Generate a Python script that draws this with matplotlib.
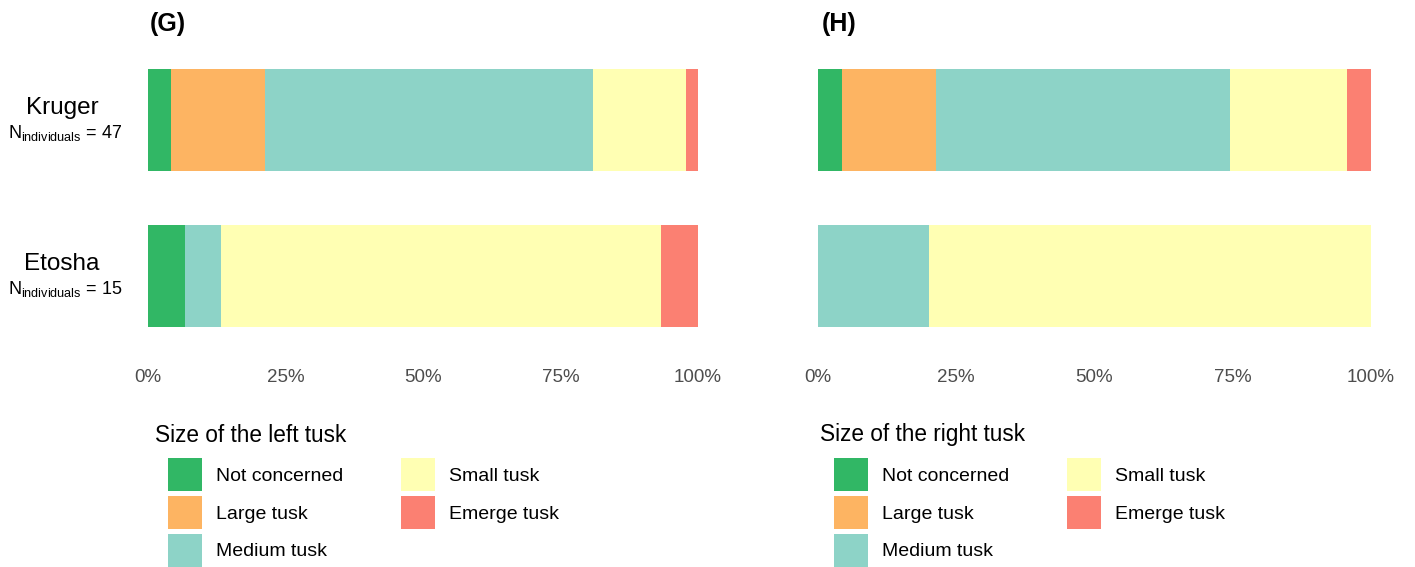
import numpy as np
import matplotlib
matplotlib.use("Agg")
import matplotlib.pyplot as plt
from matplotlib.patches import Patch

plt.rcParams['font.family'] = ['Liberation Sans', 'DejaVu Sans']
plt.rcParams['mathtext.fontset'] = 'custom'
plt.rcParams['mathtext.rm'] = 'Liberation Sans'
plt.rcParams['mathtext.it'] = 'Liberation Sans'

# data: number of individuals per tusk size class
sites = ["Kruger", "Etosha"]
n_individuals = [47, 15]
categories = ["Not concerned", "Large tusk", "Medium tusk", "Small tusk", "Emerge tusk"]
colors = ["#31B765", "#FDB462", "#8DD3C7", "#FFFFB3", "#FB8072"]

left_counts = {
    "Kruger": [2, 8, 28, 8, 1],
    "Etosha": [1, 0, 1, 12, 1],
}
right_counts = {
    "Kruger": [2, 8, 25, 10, 2],
    "Etosha": [0, 0, 3, 12, 0],
}
ticks = [0, 0.25, 0.5, 0.75, 1.0]
tick_labels = ["0%", "25%", "50%", "75%", "100%"]

W, H = 1415, 567
fig = plt.figure(figsize=(W / 100, H / 100), dpi=100)


def px_axes(x0, x1, y0, y1):
    return fig.add_axes([x0 / W, 1 - y1 / H, (x1 - x0) / W, (y1 - y0) / H])


def draw_panel(ax, counts, show_labels):
    for i, site in enumerate(sites):
        vals = np.array(counts[site], dtype=float)
        frac = vals / vals.sum()
        left = 0.0
        for f, c in zip(frac, colors):
            if f > 0:
                ax.barh(i, f, left=left, height=0.65, color=c, edgecolor='none')
            left += f
    ax.set_ylim(1.325, -0.325)
    ax.set_xlim(0, 1)
    ax.set_xticks(ticks)
    ax.set_xticklabels(tick_labels, fontsize=13.5, color="#4D4D4D")
    ax.tick_params(axis='x', length=0, pad=30)
    ax.set_yticks([])
    for s in ax.spines.values():
        s.set_visible(False)
    if show_labels:
        for i, (site, n) in enumerate(zip(sites, n_individuals)):
            ax.annotate(site, xy=(0, i), xycoords=ax.get_yaxis_transform(),
                        xytext=(-86, 12), textcoords='offset pixels',
                        ha='center', va='center', fontsize=17.5)
            ax.annotate(r"$\mathregular{N_{individuals}}$ = %d" % n, xy=(0, i),
                        xycoords=ax.get_yaxis_transform(),
                        xytext=(-83, -13), textcoords='offset pixels',
                        ha='center', va='center', fontsize=13)


ax1 = px_axes(148, 698, 69, 327)
draw_panel(ax1, left_counts, True)
ax2 = px_axes(818, 1371, 69, 327)
draw_panel(ax2, right_counts, False)

fig.text(150 / W, 1 - 24 / H, "(G)", fontsize=18, fontweight='bold', va='center')
fig.text(822 / W, 1 - 24 / H, "(H)", fontsize=18, fontweight='bold', va='center')

handles = [Patch(facecolor=c, edgecolor='none', label=l) for c, l in zip(colors, categories)]
for tx, lx, title in [(155, 168, "Size of the left tusk"), (820, 834, "Size of the right tusk")]:
    fig.text(tx / W, 1 - 435 / H, title, fontsize=16.3, va='center')
    fig.legend(handles=handles, loc='upper left', bbox_to_anchor=(lx / W, 1 - 458 / H),
               ncol=2, frameon=False, fontsize=14, borderpad=0, borderaxespad=0,
               handlelength=1.75, handleheight=2.25, labelspacing=0.24,
               handletextpad=0.7, columnspacing=3.0)

fig.savefig("out.png", dpi=100)
